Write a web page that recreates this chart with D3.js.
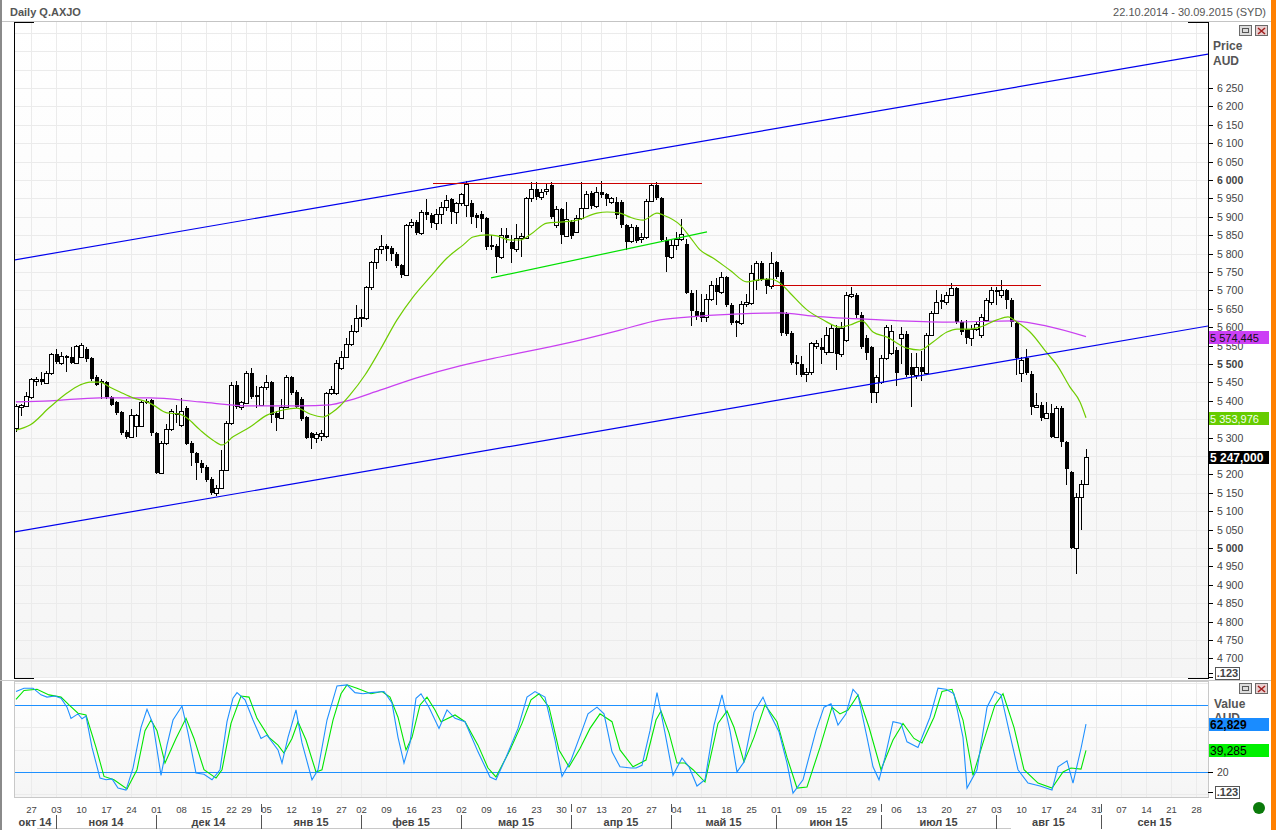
<!DOCTYPE html>
<html><head><meta charset="utf-8">
<script src="https://cdn.jsdelivr.net/npm/d3@7"></script>
<style>body{margin:0;background:#fff}svg{display:block;font-family:"Liberation Sans",Arial,sans-serif}</style>
</head><body><svg id="c" width="1276" height="830"></svg>
<script>
// ---------- DATA ----------
const titleText = "Daily Q.AXJO";
const rangeText = "22.10.2014 - 30.09.2015 (SYD)";
const tradingStart = "2014-10-22", tradingEnd = "2015-09-30";
const holidays = ["2014-12-25","2014-12-26","2015-01-01","2015-01-26","2015-04-03","2015-04-06","2015-06-08"];
const monthNames = ["янв","фев","мар","апр","май","июн","июл","авг","сен","окт","ноя","дек"];
const priceTicks = [4650,4700,4750,4800,4850,4900,4950,5000,5050,5100,5150,5200,5250,5300,5350,5400,5450,5500,5550,5600,5650,5700,5750,5800,5850,5900,5950,6000,6050,6100,6150,6200,6250];
const priceBold = [5000,5500,6000];
const oscLevels = [20,80];

const opens = [5326,5384,5386,5410,5455,5458,5448,5475,5527,5503,5522,5520,5503,5520,5540,5516,5465,5455,5451,5410,5397,5370,5315,5302,5331,5331,5399,5402,5312,5204,5285,5323,5367,5334,5380,5285,5258,5231,5220,5188,5149,5163,5212,5340,5443,5383,5394,5475,5416,5389,5437,5451,5367,5353,5383,5465,5424,5405,5356,5312,5299,5305,5304,5421,5421,
5490,5520,5555,5590,5625,5625,5709,5777,5812,5820,5815,5800,5769,5742,5878,5886,5856,5913,5905,5883,5908,5926,5948,5913,5937,5932,
5937,5905,5908,5897,5824,5821,5791,5851,5832,5813,5843,5843,5951,5976,5954,5970,5986,5878,5921,5848,5886,5859,5897,5924,5965,5929,5967,5962,5940,5940,5940,5878,5835,5872,5840,5845,5943,5986,5951,5837,5791,5824,5840,
5826,5693,5644,5640,5628,5677,5715,5696,5736,5660,5617,5611,5663,5666,5728,5774,5731,5712,5777,5750,5636,5584,5506,5500,5473,5478,5548,5545,5533,5533,5598,5527,5565,5686,5688,5633,5570,5546,5424,5451,5516,5530,5538,5570,5582,5492,5470,5492,5475,5579,5639,5674,5668,5688,5707,5614,5595,5570,5595,5580,5620,5668,5701,5688,5701,5674,5611,5475,5516,5473,5383,5389,5353,5367,5302,5380,5288,5206,5000,5139,5174];
const highs = [5390,5392,5424,5462,5465,5478,5480,5530,5540,5532,5525,5545,5552,5556,5545,5520,5470,5460,5455,5412,5400,5372,5320,5378,5364,5400,5405,5405,5315,5290,5337,5378,5388,5408,5385,5290,5262,5240,5225,5192,5170,5266,5345,5450,5455,5400,5481,5488,5440,5440,5470,5455,5372,5405,5470,5468,5428,5410,5360,5315,5315,5320,5425,5440,5510,
5535,5570,5605,5660,5650,5712,5780,5815,5850,5825,5820,5805,5772,5880,5895,5890,5918,5948,5910,5920,5940,5958,5950,5940,5965,5998,
5945,5910,5915,5900,5850,5825,5870,5870,5850,5880,5855,5955,5995,5995,5975,5990,5995,5930,5925,5940,5890,5905,5995,5970,5970,5980,5998,5965,5955,5955,5945,5880,5880,5878,5855,5948,5992,5995,5955,5845,5840,5860,5895,
5840,5700,5700,5690,5690,5725,5735,5750,5740,5665,5620,5670,5690,5770,5780,5780,5735,5804,5780,5755,5640,5590,5525,5522,5490,5560,5565,5570,5600,5605,5605,5615,5695,5710,5692,5640,5580,5550,5470,5525,5605,5605,5545,5600,5590,5530,5530,5535,5585,5645,5700,5690,5695,5720,5710,5620,5620,5605,5615,5635,5680,5710,5710,5728,5705,5680,5615,5520,5540,5480,5420,5398,5398,5390,5385,5385,5290,5210,5150,5185,5270];
const lows = [5315,5360,5383,5405,5440,5443,5445,5470,5500,5498,5478,5500,5500,5515,5505,5455,5440,5405,5405,5385,5362,5308,5295,5300,5302,5328,5392,5305,5200,5200,5280,5318,5340,5330,5280,5223,5185,5205,5180,5144,5142,5160,5208,5335,5378,5375,5390,5405,5380,5385,5430,5340,5318,5350,5380,5415,5380,5345,5295,5270,5285,5290,5300,5415,5415,
5485,5515,5550,5585,5600,5620,5700,5758,5800,5780,5780,5760,5735,5738,5870,5850,5850,5890,5870,5865,5880,5915,5880,5880,5930,5900,
5880,5870,5860,5810,5810,5747,5785,5830,5775,5805,5790,5840,5940,5945,5945,5960,5895,5870,5825,5845,5840,5855,5890,5920,5920,5925,5950,5930,5935,5895,5870,5810,5830,5830,5830,5840,5940,5945,5832,5750,5785,5810,5835,
5690,5603,5620,5615,5615,5670,5660,5690,5655,5605,5573,5605,5655,5660,5700,5725,5690,5705,5730,5575,5575,5498,5470,5465,5452,5470,5540,5500,5525,5530,5485,5520,5560,5680,5625,5540,5510,5394,5394,5445,5510,5525,5440,5500,5465,5383,5460,5455,5470,5575,5635,5650,5660,5685,5608,5580,5555,5550,5590,5570,5615,5660,5660,5680,5650,5600,5470,5450,5470,5362,5380,5345,5350,5300,5300,5275,5170,4998,4929,5050,5170];
const closes = [5386,5388,5413,5459,5458,5450,5475,5527,5505,5522,5515,5503,5549,5552,5513,5459,5443,5448,5410,5389,5367,5312,5302,5361,5361,5397,5394,5312,5204,5285,5323,5372,5361,5372,5283,5258,5231,5217,5185,5149,5163,5212,5340,5443,5383,5397,5475,5410,5410,5437,5451,5361,5353,5383,5465,5421,5383,5350,5299,5299,5310,5312,5421,5432,5503,
5520,5555,5590,5625,5628,5709,5777,5812,5820,5812,5800,5766,5742,5878,5886,5856,5913,5905,5883,5908,5926,5945,5913,5937,5962,5989,
5900,5897,5895,5818,5818,5791,5851,5843,5813,5843,5848,5951,5976,5954,5967,5976,5900,5921,5851,5894,5848,5897,5924,5962,5929,5967,5959,5948,5951,5905,5878,5832,5872,5835,5845,5943,5986,5951,5837,5791,5824,5840,5853,
5693,5644,5630,5625,5677,5715,5696,5736,5660,5611,5611,5663,5668,5747,5774,5731,5712,5774,5736,5584,5582,5503,5500,5470,5478,5557,5557,5537,5579,5598,5527,5598,5688,5690,5633,5546,5530,5421,5465,5516,5600,5590,5475,5582,5470,5470,5492,5478,5579,5639,5668,5668,5688,5707,5614,5587,5570,5595,5610,5628,5674,5701,5695,5701,5674,5614,5516,5511,5475,5383,5389,5353,5367,5302,5380,5288,5215,5000,5139,5174,5247];

const ma20Idx = [0,2.8,6.8,10.2,12.8,14.8,16.8,18.8,20.8,23.4,26.2,27.4,30.2,32.8,34.2,36.8,39.4,41.2,43.4,46.8,50.2,53.4,56.2,58.8,61.4,63.4,64.8,66.8,69.8,72.8,76.2,79.4,82.8,86.2,89.4,91.4,94.2,96.2,98.8,100.8,102.8,106.2,109.4,112.2,116.2,118.2,120.8,122.8,125.4,128.2,129.4,132.8,134.8,136.8,139.4,142.8,146.2,148.2,150.8,152.8,154.8,158.2,161.4,164.8,166.8,169.2,171.4,174.2,178.2,180.8,183.4,186.2,188.2,190.8,192.8,196.2,198.4,200.2,202.8,206.2,208.2,210.8,212.8,214];
const ma20Val = [5320,5334,5383,5421,5443,5451,5451,5437,5424,5408,5397,5389,5367,5364,5353,5321,5293,5280,5302,5329,5361,5375,5380,5364,5356,5370,5386,5416,5470,5538,5620,5682,5736,5788,5823,5845,5851,5848,5837,5837,5851,5883,5886,5891,5910,5913,5910,5899,5891,5910,5905,5878,5845,5810,5788,5755,5723,5728,5731,5720,5693,5647,5620,5600,5606,5617,5587,5573,5543,5538,5560,5587,5595,5595,5600,5620,5628,5614,5587,5530,5497,5437,5397,5353.976];
const ma100Idx = [0,6.8,16.8,26.8,36.8,46.8,56.8,62.8,66.8,72.8,80.8,88.8,96.8,104.8,112.8,120.8,128.8,136.8,144.8,152.8,159.4,172.8,186.2,199.4,206.2,214];
const ma100Val = [5397,5400,5408,5408,5397,5386,5386,5389,5402,5429,5465,5495,5519,5541,5565,5592,5620,5630,5636,5639,5630,5620,5614,5617,5603,5574.445];

const kIdx = [0,1.6,3.4,5,6.2,7.8,9,10.2,11,12.4,13.2,14,15.2,16.8,18,19.2,20.4,22,23.4,25,26.2,27.4,29,30.2,31.4,33.2,34.4,36,37.6,39.2,40.8,42.2,43.4,44.2,45.8,47.4,49,50.2,52.4,53.2,54.4,56,57.2,59.2,60.4,62.2,64.2,66.2,67.8,69.4,71,73.6,75.2,76.4,77.6,78.8,80,81,82.6,84.6,86.2,87.8,89.8,92.4,94.8,96,98,100.4,102.2,103.8,105.8,107.8,109.2,111,113.2,114.4,116.2,117.6,119.2,120.8,123,124,125.2,126.8,128.2,129.8,131.4,133.2,134.6,136.2,137.8,139.6,141.2,142.8,144.2,145.6,147.6,149.4,150.6,152.6,154.2,155.4,157.4,160,161.6,163,164.4,166,167.4,168.4,170.2,171.4,172.6,173.8,175.4,177,178.2,180.4,182.8,184.4,186,187.6,189.4,190.2,192.2,194.2,195.8,197,198.6,200.4,202.4,204.8,207.2,208.4,210.2,211.4,213,214];
const kVal = [92,95,95,89,87,88,86,78,68,72,67.6,70,42,14.5,13,13.8,5.6,3.8,23.5,60,76,63,17,44,66.5,79,55,19,18,13,22,65,86,91,84.5,66.5,50,53,39.7,28,51,75.5,46,13,22,66.5,97,98,91,90,91,92,81.7,51,28,46,86,90,78,59,75.5,68,65,38,15.5,13,33,59,87,92,87,48.6,16,30.5,57,72,78,72,38,24.6,23.5,23.5,26,57,91,55,17,32.5,24.6,7.4,13,62,89,57,20,29,73.6,87,73.6,56,28,1,13,57,78,81,62,72,94,89,51,24.6,13,33,65,63.5,47,42,69,95,94,90,51,5.6,22,78,92,89,57,22,10,7.4,3.8,24.6,30,10,41,62.829];
const dIdx = [0,1.6,4.2,6.6,9,10.6,12.4,14,16,17.6,19.6,22.2,24.2,25.8,27,28.2,29.8,32,34,35.6,37.6,40,41.2,43,45,46.6,48.2,50.6,52.4,53.6,55.2,56.4,58,60,61.2,63.4,65,66.2,68.2,71,73.2,74.8,76.4,78,79.2,80.8,82.2,83.8,85,87.8,89.8,92.4,94.4,96,98.8,101.2,103,104.6,106.6,108.6,110.6,112.8,114.8,116.8,119.2,120.8,123.4,126,128,129,130.6,132.2,133.8,135.4,137.8,140.4,142.2,143.6,145.6,147.6,149.8,152.2,154.2,156.2,158.2,160.8,163.2,164.8,166.4,168.4,170.6,173,175.4,177.4,179.6,181.2,183.6,185.2,187.2,189.4,191.4,193.4,195.8,197.4,199.6,201.6,204.4,207.2,209.4,211,213,214];
const dVal = [85,93,94,89,87,80,72.6,71,42,16,13,4.7,22,57,66.5,57,28,50,68,50,22,14.5,22,63.5,88,87,68,51,44,37,50,65,48.6,20,22,66.5,90,98,95,90,92,87,69,39.7,51,80,87,75.5,65,71,65,44,23.5,15.5,39.7,63.5,84.5,90,78,39.7,24.6,41,59,72,65,39.7,24.6,30.7,66.5,74.6,55,28,28,22,11,63.5,74.6,60,29,51,80,65,33,5.6,6.5,42,78,72,75.5,89,60,22,48.6,63.5,50,46,69,92,94,66.5,17,46,80,90,60,22,10,5.6,20,23.5,22.5,39.285];

// trend lines: [startIndex, startPrice, endIndex, endPrice]
const channelLines = [[0,5783.5,238,6341.4],[0,5044.4,238,5602.3]];
const resistanceLines = [[83.4,5992,137.2,5992],[151.2,5715,205,5715]];
const supportLines = [[95,5734,138.2,5859]];

// ---------- SETUP ----------
const svg = d3.select("#c");
const L=14,R=1208,T=22,B=678,OT=681,OB=797;
const x = d3.scaleLinear().domain([-0.4,238.4]).range([L,R]);
const y = d3.scaleLinear().domain([4700,6250]).range([658.4,88]);
const yo = d3.scaleLinear().domain([0,100]).range([794.3,682.6]);

const parse = d3.utcParse("%Y-%m-%d"), fmtD = d3.utcFormat("%Y-%m-%d");
const hol = new Set(holidays);
const dates = [];
for (let d=parse(tradingStart); d<=parse(tradingEnd); d=d3.utcDay.offset(d,1)) {
  const wd=d.getUTCDay(); if (wd===0||wd===6) continue;
  if (hol.has(fmtD(d))) continue;
  dates.push(d);
}
const weekStarts = [], monthStarts = [];
dates.forEach((d,i)=>{
  if (i===0) return;
  if (+d3.utcMonday.floor(d) !== +d3.utcMonday.floor(dates[i-1])) weekStarts.push(i);
  if (d.getUTCMonth() !== dates[i-1].getUTCMonth()) monthStarts.push(i);
});

const defs = svg.append("defs");
const g1 = defs.append("linearGradient").attr("id","bgm").attr("x1",0).attr("y1",0).attr("x2",0).attr("y2",1);
g1.append("stop").attr("offset","0%").attr("stop-color","#ffffff");
g1.append("stop").attr("offset","100%").attr("stop-color","#f5f5f5");
defs.append("clipPath").attr("id","clipM").append("rect").attr("x",L+1).attr("y",T+1).attr("width",R-L-1).attr("height",B-T-1);
defs.append("clipPath").attr("id","clipO").append("rect").attr("x",L+1).attr("y",OT).attr("width",R-L-1).attr("height",OB-OT);

svg.append("rect").attr("width",1276).attr("height",830).attr("fill","#fff");
// window borders
svg.append("rect").attr("x",0).attr("y",0).attr("width",2).attr("height",830).attr("fill","#8a8a8a");
svg.append("rect").attr("x",1271).attr("y",0).attr("width",5).attr("height",830).attr("fill","#ff8000");

// header
svg.append("text").attr("x",10).attr("y",16).attr("font-size",11).attr("font-weight","bold").attr("fill","#555").text(titleText);
svg.append("text").attr("x",1266).attr("y",16).attr("font-size",11).attr("text-anchor","end").attr("fill","#555").text(rangeText);
svg.append("line").attr("x1",2).attr("x2",1271).attr("y1",21.5).attr("y2",21.5).attr("stroke","#c4c4c4");

// panel backgrounds
svg.append("rect").attr("x",L).attr("y",T).attr("width",R-L).attr("height",B-T).attr("fill","url(#bgm)");
svg.append("rect").attr("x",L).attr("y",OT).attr("width",R-L).attr("height",OB-OT).attr("fill","url(#bgm)");

// grid main
const gridM = svg.append("g").attr("stroke","#ebebeb").attr("shape-rendering","crispEdges");
d3.range(4650,6401,50).forEach(p=>{ const yy=Math.round(y(p))+0.5; if(yy>T&&yy<B) gridM.append("line").attr("x1",L).attr("x2",R).attr("y1",yy).attr("y2",yy); });
weekStarts.forEach(i=>{ const xx=Math.round(x(i))+0.5;
  gridM.append("line").attr("x1",xx).attr("x2",xx).attr("y1",T).attr("y2",B);
  gridM.append("line").attr("x1",xx).attr("x2",xx).attr("y1",OT).attr("y2",OB);
});
[0,40,60,100].forEach(v=>{ const yy=Math.round(yo(v))+0.5; gridM.append("line").attr("x1",L).attr("x2",R).attr("y1",yy).attr("y2",yy); });

// candles
const cg = svg.append("g").attr("clip-path","url(#clipM)").attr("shape-rendering","crispEdges");
closes.forEach((c,i)=>{
  const o=opens[i], h=highs[i], l=lows[i];
  const cx=Math.round(x(i));
  cg.append("line").attr("x1",cx+0.5).attr("x2",cx+0.5).attr("y1",Math.round(y(h))).attr("y2",Math.round(y(l))).attr("stroke","#000");
  const top=Math.round(y(Math.max(o,c))), bot=Math.round(y(Math.min(o,c)));
  if (c>=o) {
    cg.append("rect").attr("x",cx-1.5).attr("y",top+0.5).attr("width",4).attr("height",Math.max(bot-top,1)).attr("fill","#fff").attr("stroke","#000");
  } else {
    cg.append("rect").attr("x",cx-1.5).attr("y",top).attr("width",4).attr("height",Math.max(bot-top,1)).attr("fill","#000");
  }
});

// MAs
const lineG = svg.append("g").attr("clip-path","url(#clipM)").attr("fill","none");
const maLine = d3.line().x(d=>x(d[0])).y(d=>y(d[1])).curve(d3.curveMonotoneX);
lineG.append("path").attr("d",maLine(d3.zip(ma100Idx,ma100Val))).attr("stroke","#c940f0").attr("stroke-width",1.2);
lineG.append("path").attr("d",maLine(d3.zip(ma20Idx,ma20Val))).attr("stroke","#6fcc00").attr("stroke-width",1.2);

// trend lines
function extLine(s){ const [i1,p1,i2,p2]=s; const k=(p2-p1)/(i2-i1); const [a,b]=x.domain(); return [[a,p1+k*(a-i1)],[b,p1+k*(b-i1)]]; }
channelLines.forEach(s=>{ const e=extLine(s);
  lineG.append("line").attr("x1",x(e[0][0])).attr("y1",y(e[0][1])).attr("x2",x(e[1][0])).attr("y2",y(e[1][1])).attr("stroke","#0000ee").attr("stroke-width",1.2); });
resistanceLines.forEach(s=>{ lineG.append("line").attr("x1",x(s[0])).attr("y1",Math.round(y(s[1]))+0.5).attr("x2",x(s[2])).attr("y2",Math.round(y(s[3]))+0.5).attr("stroke","#cc0000").attr("stroke-width",1); });
supportLines.forEach(s=>{ lineG.append("line").attr("x1",x(s[0])).attr("y1",y(s[1])).attr("x2",x(s[2])).attr("y2",y(s[3])).attr("stroke","#00e000").attr("stroke-width",1.2); });

// oscillator
const og = svg.append("g").attr("clip-path","url(#clipO)").attr("fill","none");
oscLevels.forEach(v=>{ const yy=Math.round(yo(v))+0.5; og.append("line").attr("x1",L).attr("x2",R).attr("y1",yy).attr("y2",yy).attr("stroke","#1e90ff"); });
const oLine = d3.line().x(d=>x(d[0])).y(d=>yo(d[1]));
og.append("path").attr("d",oLine(d3.zip(dIdx,dVal))).attr("stroke","#00e600").attr("stroke-width",1.1);
og.append("path").attr("d",oLine(d3.zip(kIdx,kVal))).attr("stroke","#1e90ff").attr("stroke-width",1.1);

// frames
const fr = svg.append("g").attr("shape-rendering","crispEdges");
fr.append("line").attr("x1",0).attr("x2",1271).attr("y1",680.5).attr("y2",680.5).attr("stroke","#c8c8c8");
fr.append("rect").attr("x",L+0.5).attr("y",OT+0.5).attr("width",R-L).attr("height",OB-OT).attr("fill","none").attr("stroke","#c8c8c8");
fr.append("line").attr("x1",L+0.5).attr("x2",L+0.5).attr("y1",T).attr("y2",B+1).attr("stroke","#000");
fr.append("line").attr("x1",R+0.5).attr("x2",R+0.5).attr("y1",T).attr("y2",B+1).attr("stroke","#000");
[[L,L+20,T],[R-20,R+1,T],[R-20,R+1,B],[L,L+20,B]].forEach(a=>fr.append("line").attr("x1",a[0]).attr("x2",a[1]).attr("y1",a[2]+0.5).attr("y2",a[2]+0.5).attr("stroke","#000"));
fr.append("line").attr("x1",37).attr("x2",1011).attr("y1",828.5).attr("y2",828.5).attr("stroke","#c8c8c8");

// value boxes positions (computed first so hidden tick labels can be skipped)
const lastMa100 = ma100Val[ma100Val.length-1], lastMa20 = ma20Val[ma20Val.length-1], lastClose = closes[closes.length-1];
const boxYs = [y(lastMa100), y(lastMa20), y(lastClose)];

// price axis
const ax = svg.append("g").attr("font-size",10.5).attr("fill","#444");
const fmtInt = v=>{ const s=String(v); return s.length>3? s.slice(0,-3)+" "+s.slice(-3) : s; };
priceTicks.forEach(p=>{
  const yy=Math.round(y(p))+0.5;
  fr.append("line").attr("x1",R).attr("x2",R+5).attr("y1",yy).attr("y2",yy).attr("stroke","#000");
  if (p<4700) return;
  if (boxYs.some(b=>Math.abs(b-yy)<5)) return; // fully covered by a value box
  ax.append("text").attr("x",R+9).attr("y",yy+3.5).attr("font-weight",priceBold.includes(p)?"bold":"normal").text(fmtInt(p));
});
svg.append("text").attr("x",1213).attr("y",50).attr("font-size",12).attr("font-weight","bold").attr("fill","#555").text("Price");
svg.append("text").attr("x",1213).attr("y",65).attr("font-size",12).attr("font-weight","bold").attr("fill","#555").text("AUD");

// osc axis
svg.append("text").attr("x",1214).attr("y",708).attr("font-size",12).attr("font-weight","bold").attr("fill","#555").text("Value");
svg.append("text").attr("x",1214).attr("y",722).attr("font-size",12).attr("font-weight","bold").attr("fill","#555").text("AUD");
[20].forEach(v=>{ const yy=Math.round(yo(v))+0.5;
  fr.append("line").attr("x1",R).attr("x2",R+5).attr("y1",yy).attr("y2",yy).attr("stroke","#000");
  ax.append("text").attr("x",R+9).attr("y",yy+3.5).text(v); });

// value boxes
const fmtVal = v=>{ const [a,b]=v.toFixed(3).split("."); return fmtInt(+a)+","+b; };
function vbox(yy, bg, fg, txt, size, bold){
  const yc=Math.round(yy);
  svg.append("rect").attr("x",R+1).attr("y",yc-6).attr("width",60).attr("height",13).attr("fill",bg);
  svg.append("text").attr("x",R+2).attr("y",yc+4.5).attr("font-size",size).attr("font-weight",bold?"bold":"normal").attr("fill",fg).text(txt);
}
vbox(y(lastMa100),"#cc40f5","#111",fmtVal(lastMa100),11,false);
vbox(y(lastMa20),"#66cc00","#f4fff0",fmtVal(lastMa20),11,false);
vbox(y(lastClose),"#000","#fff",fmtVal(lastClose),12,true);
const lastK=kVal[kVal.length-1], lastDv=dVal[dVal.length-1];
vbox(yo(lastK),"#1a8cff","#000",fmtVal(lastK),12,true);
vbox(yo(lastDv),"#00f000","#000",fmtVal(lastDv),12,false);

// .123 boxes
function box123(yy){
  fr.append("line").attr("x1",R).attr("x2",R+5).attr("y1",yy+0.5).attr("y2",yy+0.5).attr("stroke","#000");
  svg.append("rect").attr("x",1215.5).attr("y",yy-5.5).attr("width",24).attr("height",12).attr("fill","#fff").attr("stroke","#555");
  svg.append("text").attr("x",1227.5).attr("y",yy+4).attr("text-anchor","middle").attr("font-size",11).attr("font-weight","bold").attr("fill","#444").text(".123");
}
box123(673); box123(792);

// buttons
function buttons(by){
  svg.append("rect").attr("x",1239.5).attr("y",by+0.5).attr("width",12).attr("height",10).attr("fill","#dcdcdc").attr("stroke","#6a6a6a");
  svg.append("rect").attr("x",1242.5).attr("y",by+3.5).attr("width",6).attr("height",4).attr("fill","none").attr("stroke","#555");
  svg.append("rect").attr("x",1255.5).attr("y",by+0.5).attr("width",12).attr("height",10).attr("fill","#e8d0d0").attr("stroke","#6a6a6a");
  svg.append("path").attr("d",`M1258,${by+3}L1265,${by+9}M1265,${by+3}L1258,${by+9}`).attr("stroke","#a02020").attr("stroke-width",1.6);
}
buttons(25); buttons(683);
svg.append("circle").attr("cx",1259).attr("cy",808).attr("r",6).attr("fill","#0a7a0a");

// date axis
const dg = svg.append("g").attr("fill","#444");
const fmtDay = d3.utcFormat("%d");
weekStarts.forEach(i=>{
  dg.append("text").attr("x",x(i)+0.5).attr("y",813).attr("font-size",9.5).attr("text-anchor","middle").text(fmtDay(dates[i]));
});
monthStarts.forEach(i=>{
  const xx=Math.round(x(i))+0.5;
  fr.append("line").attr("x1",xx).attr("x2",xx).attr("y1",815).attr("y2",829).attr("stroke","#555");
  if (!weekStarts.includes(i)) fr.append("line").attr("x1",xx).attr("x2",xx).attr("y1",804).attr("y2",812).attr("stroke","#555");
});
const bounds = [L, ...monthStarts.map(i=>x(i)), R];
const mIdx = [0, ...monthStarts];
mIdx.forEach((i,k)=>{
  const d=dates[i];
  const cx=(bounds[k]+bounds[k+1])/2;
  dg.append("text").attr("x",cx).attr("y",826).attr("font-size",11).attr("font-weight","bold").attr("text-anchor","middle")
    .text(monthNames[d.getUTCMonth()]+" "+d3.utcFormat("%y")(d));
});
</script></body></html>
